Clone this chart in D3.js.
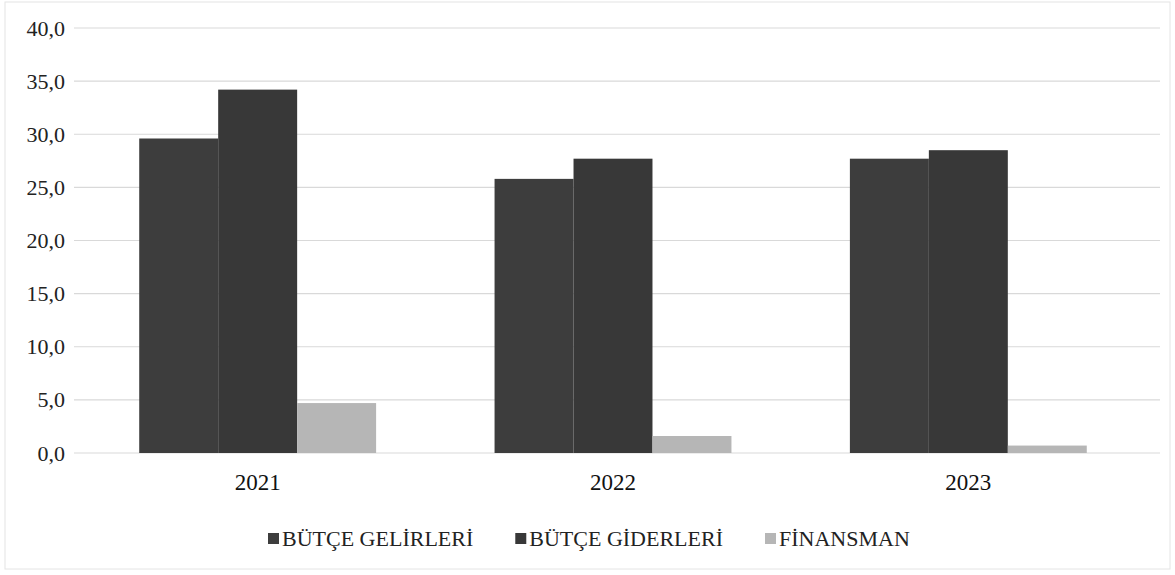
<!DOCTYPE html>
<html>
<head>
<meta charset="utf-8">
<script src="https://cdn.jsdelivr.net/npm/d3@7"></script>
<style>
  body { margin: 0; background: #fff; }
  svg text { font-family: "Liberation Serif", "DejaVu Serif", serif; }
</style>
</head>
<body>
<div id="chart"></div>
<script>
// data
var years = ["2021", "2022", "2023"]
var seriesNames = ["BÜTÇE GELİRLERİ", "BÜTÇE GİDERLERİ", "FİNANSMAN"]
var gelirler = [29.6, 25.8, 27.7]
var giderler = [34.2, 27.7, 28.5]
var finansman = [4.7, 1.6, 0.7]
var yTicks = [0, 5, 10, 15, 20, 25, 30, 35, 40]

var colors = ["#3d3d3d", "#383838", "#b6b6b6"]
var values = [gelirler, giderler, finansman]

var width = 1175, height = 575

var svg = d3.select("#chart").append("svg")
  .attr("width", width)
  .attr("height", height)

// faint frame like the scanned chart border
svg.append("rect")
  .attr("x", 5).attr("y", 2)
  .attr("width", width - 10).attr("height", height - 8)
  .attr("fill", "none")
  .attr("stroke", "#e4e4e4")

var x = d3.scaleBand()
  .domain(years)
  .range([80, 1146])

var xInner = d3.scaleBand()
  .domain(seriesNames)
  .range([0, x.bandwidth()])
  .paddingOuter(0.75)
  .paddingInner(0)

var y = d3.scaleLinear()
  .domain([0, 40])
  .range([453, 28])

// gridlines
svg.append("g")
  .selectAll("line")
  .data(yTicks)
  .enter()
  .append("line")
    .attr("x1", 74)
    .attr("x2", 1160)
    .attr("y1", function(d) { return y(d) })
    .attr("y2", function(d) { return y(d) })
    .attr("stroke", "#d9d9d9")
    .attr("stroke-width", 1.2)

// y axis labels
var yAxis = d3.axisLeft(y)
  .tickValues(yTicks)
  .tickSize(0)
  .tickPadding(0)
  .tickFormat(function(d) { return d3.format(".1f")(d).replace(".", ",") })

svg.append("g")
  .attr("transform", "translate(65,0)")
  .call(yAxis)
  .call(function(g) { g.select(".domain").remove() })
  .attr("font-family", null)
  .attr("font-size", null)
  .selectAll("text")
    .style("font-size", "22px")
    .attr("fill", "#222")

// bars
var groups = svg.append("g")
  .selectAll("g")
  .data(years)
  .enter()
  .append("g")
    .attr("transform", function(d) { return "translate(" + x(d) + ",0)" })

groups.selectAll("rect")
  .data(function(d, i) {
    return seriesNames.map(function(s, j) { return {key: s, idx: j, value: values[j][i]} })
  })
  .enter()
  .append("rect")
    .attr("x", function(d) { return xInner(d.key) })
    .attr("width", xInner.bandwidth())
    .attr("y", function(d) { return y(d.value) })
    .attr("height", function(d) { return y(0) - y(d.value) })
    .attr("fill", function(d) { return colors[d.idx] })

// x axis labels
var xAxis = d3.axisBottom(x).tickSize(0).tickPadding(0)
svg.append("g")
  .attr("transform", "translate(0,474)")
  .call(xAxis)
  .call(function(g) { g.select(".domain").remove() })
  .attr("font-family", null)
  .attr("font-size", null)
  .selectAll("text")
    .style("font-size", "23px")
    .attr("fill", "#111")

// legend, laid out with equal gaps between entries
var legend = svg.append("g")
  .selectAll("g")
  .data(seriesNames)
  .enter()
  .append("g")

legend.append("rect")
  .attr("x", 0).attr("y", -13)
  .attr("width", 11).attr("height", 11)
  .attr("fill", function(d, i) { return colors[i] })

legend.append("text")
  .attr("x", 14)
  .attr("y", 0)
  .text(function(d) { return d })
  .style("font-size", "22px")
  .attr("fill", "#222")

var widths = []
legend.each(function() { widths.push(14 + d3.select(this).select("text").node().getComputedTextLength()) })
var firstX = 268, lastX = 765
var gap = (lastX - firstX - widths[0] - widths[1]) / 2
var pos = [firstX, firstX + widths[0] + gap, lastX]
legend.attr("transform", function(d, i) { return "translate(" + pos[i] + ",546)" })
</script>
</body>
</html>
